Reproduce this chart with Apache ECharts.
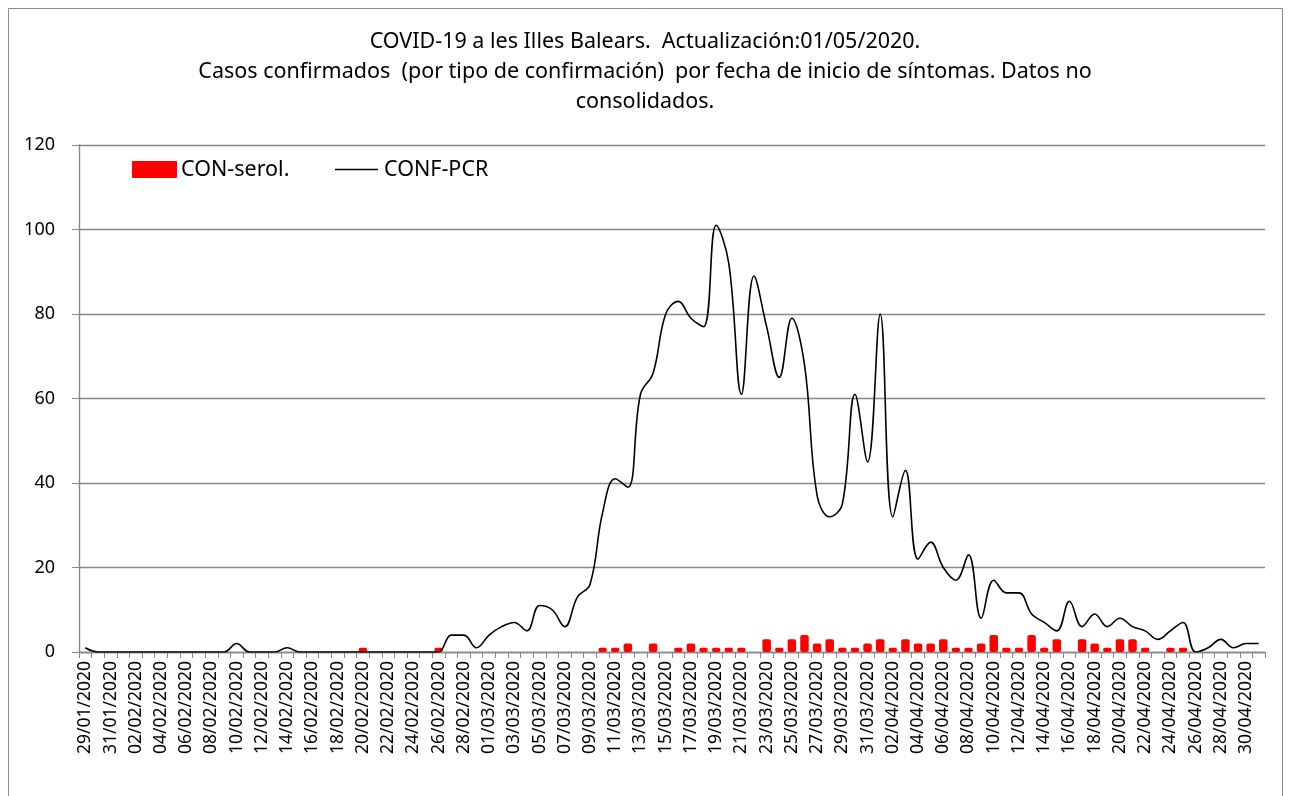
<!DOCTYPE html>
<html>
<head>
<meta charset="utf-8">
<script src="https://cdn.jsdelivr.net/npm/echarts@6/dist/echarts.min.js"></script>
<style>
html,body{margin:0;padding:0;background:#fff;}
#chart{width:1290px;height:796px;}
</style>
</head>
<body>
<div id="chart"></div>
<script>
const dates = [
 "29/01/2020","30/01/2020","31/01/2020","01/02/2020","02/02/2020","03/02/2020","04/02/2020","05/02/2020","06/02/2020","07/02/2020",
 "08/02/2020","09/02/2020","10/02/2020","11/02/2020","12/02/2020","13/02/2020","14/02/2020","15/02/2020","16/02/2020","17/02/2020",
 "18/02/2020","19/02/2020","20/02/2020","21/02/2020","22/02/2020","23/02/2020","24/02/2020","25/02/2020","26/02/2020","27/02/2020",
 "28/02/2020","29/02/2020","01/03/2020","02/03/2020","03/03/2020","04/03/2020","05/03/2020","06/03/2020","07/03/2020","08/03/2020",
 "09/03/2020","10/03/2020","11/03/2020","12/03/2020","13/03/2020","14/03/2020","15/03/2020","16/03/2020","17/03/2020","18/03/2020",
 "19/03/2020","20/03/2020","21/03/2020","22/03/2020","23/03/2020","24/03/2020","25/03/2020","26/03/2020","27/03/2020","28/03/2020",
 "29/03/2020","30/03/2020","31/03/2020","01/04/2020","02/04/2020","03/04/2020","04/04/2020","05/04/2020","06/04/2020","07/04/2020",
 "08/04/2020","09/04/2020","10/04/2020","11/04/2020","12/04/2020","13/04/2020","14/04/2020","15/04/2020","16/04/2020","17/04/2020",
 "18/04/2020","19/04/2020","20/04/2020","21/04/2020","22/04/2020","23/04/2020","24/04/2020","25/04/2020","26/04/2020","27/04/2020",
 "28/04/2020","29/04/2020","30/04/2020","01/05/2020"
];
const confPCR = [
 1,0,0,0,0,0,0,0,0,0,
 0,0,2,0,0,0,1,0,0,0,
 0,0,0,0,0,0,0,0,0,4,
 4,1,4,6,7,5,11,10,6,13,
 16,33,41,39,61,66,80,83,79,77,
 101,92,61,89,77,65,79,68,37,32,
 35,61,45,80,32,43,22,26,20,17,
 23,8,17,14,14,9,7,5,12,6,
 9,6,8,6,5,3,5,7,0,1,
 3,1,2,2
];
const conSerol = [
 0,0,0,0,0,0,0,0,0,0,
 0,0,0,0,0,0,0,0,0,0,
 0,0,1,0,0,0,0,0,1,0,
 0,0,0,0,0,0,0,0,0,0,
 0,1,1,2,0,2,0,1,2,1,
 1,1,1,0,3,1,3,4,2,3,
 1,1,2,3,1,3,2,2,3,1,
 1,2,4,1,1,4,1,3,0,3,
 2,1,3,3,1,0,1,1,0,0,
 0,0,0,0
];
const yTicks = [0,20,40,60,80,100,120];
const titleLines = [
 "COVID-19 a les Illes Balears.  Actualización:01/05/2020.",
 "Casos confirmados  (por tipo de confirmación)  por fecha de inicio de síntomas. Datos no",
 "consolidados."
];
const seriesNames = ["CON-serol.", "CONF-PCR"];

const chart = echarts.init(document.getElementById('chart'), null, {renderer:'canvas'});
const gray = '#888888';
const font = 'Noto Sans';
const titleFont = {fontFamily:font, fontSize:21.5, fill:'#000'};
const graphics = [
  {type:'rect', shape:{x:8.5,y:8.5,width:1274,height:800}, style:{fill:'none',stroke:'#8c8c8c',lineWidth:1}, z:-1}
];
titleLines.forEach(function(t, i){
  graphics.push({type:'text', x:645, y:42 + i*30,
    style:Object.assign({text:t, textAlign:'center', textVerticalAlign:'middle'}, titleFont)});
});
// legend
graphics.push({type:'rect', shape:{x:132,y:161,width:45,height:17,r:1}, style:{fill:'#ff0000'}});
graphics.push({type:'text', x:181, y:170, style:{text:seriesNames[0], fontFamily:font, fontSize:21.5, fill:'#000', textVerticalAlign:'middle'}});
graphics.push({type:'line', shape:{x1:335,y1:169.5,x2:378,y2:169.5}, style:{stroke:'#000',lineWidth:1.6}});
graphics.push({type:'text', x:384, y:170, style:{text:seriesNames[1], fontFamily:font, fontSize:21.5, fill:'#000', textVerticalAlign:'middle'}});

chart.setOption({
  backgroundColor:'#fff',
  animation:false,
  textStyle:{fontFamily:font},
  graphic:graphics,
  grid:{left:79,right:25,top:145,bottom:144,containLabel:false},
  xAxis:{
    type:'category',
    data:dates,
    boundaryGap:true,
    axisLine:{lineStyle:{color:gray,width:1.4}},
    axisTick:{show:true,interval:0,length:6,lineStyle:{color:gray}},
    axisLabel:{interval:1,rotate:90,fontFamily:font,fontSize:17.5,color:'#000',margin:9}
  },
  yAxis:{
    type:'value',
    min:yTicks[0], max:yTicks[yTicks.length-1], interval:20,
    axisLine:{show:true,lineStyle:{color:gray,width:1.4}},
    axisTick:{show:true,length:7,lineStyle:{color:gray}},
    splitLine:{lineStyle:{color:gray,width:1.4}},
    axisLabel:{fontFamily:font,fontSize:18,color:'#000',margin:24}
  },
  series:[
    {name:seriesNames[0], type:'bar', data:conSerol, barWidth:8.5,
     itemStyle:{color:'#ff0000',borderRadius:2}},
    {name:seriesNames[1], type:'line', data:confPCR, smooth:0.4, symbol:'none',
     lineStyle:{color:'#000',width:1.6}, itemStyle:{color:'#000'}}
  ]
});
</script>
</body>
</html>
